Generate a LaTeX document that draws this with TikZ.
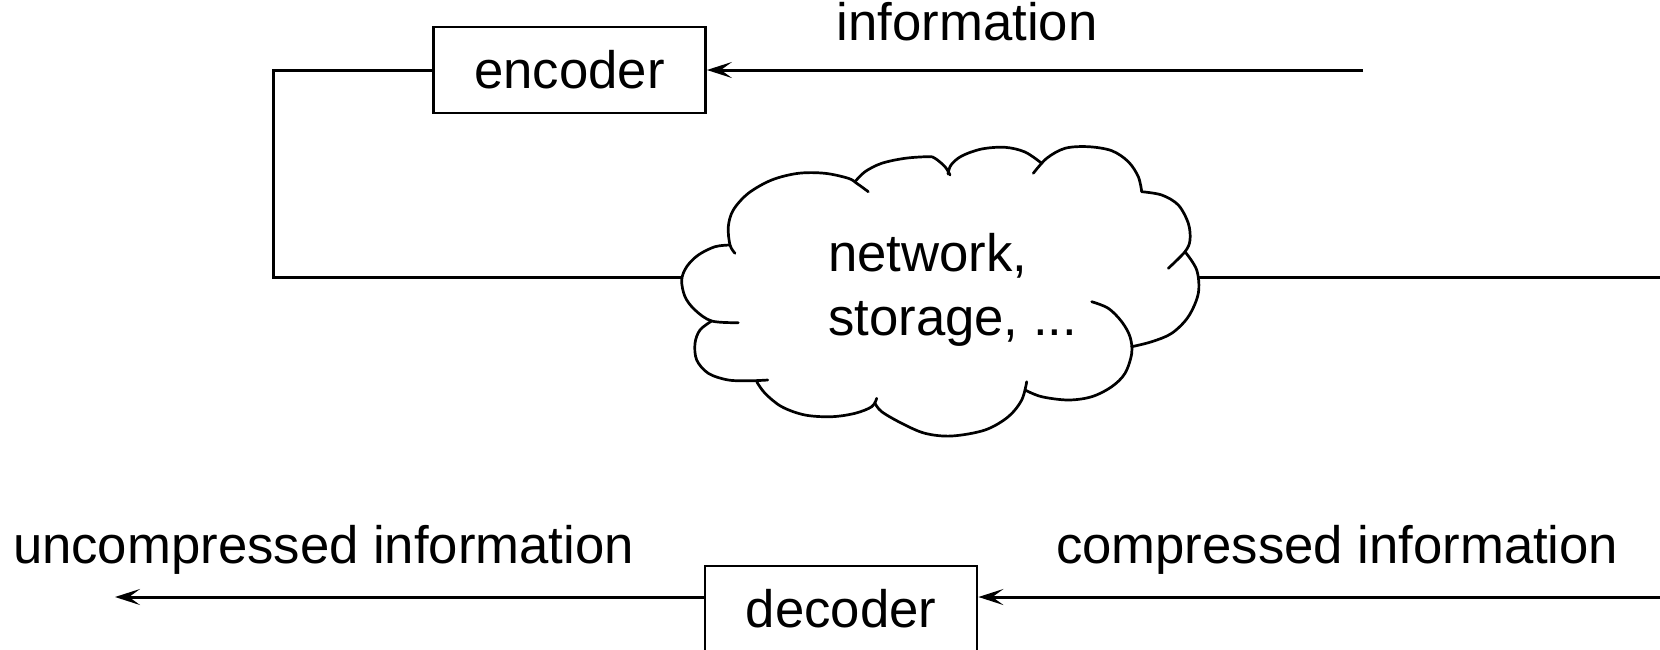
\documentclass[tikz,border=0pt]{standalone}
\usepackage{fontspec}
\setmainfont{Liberation Sans}
\usetikzlibrary{arrows.meta}
\begin{document}
\begin{tikzpicture}[x=1pt,y=-1pt, line width=3pt,
  every node/.style={font=\fontsize{52.7}{63.3}\selectfont, inner sep=0pt},
  box/.style={draw, line width=2.8pt, minimum width=272pt, minimum height=86pt},
  arr/.style={-{Stealth[length=25pt,width=16pt,inset=11pt]}},
  cloudline/.style={line width=2.7pt, line join=round, line cap=round},
  bump/.style={smooth, tension=0.55}]
\useasboundingbox (0,0) rectangle (1660,649);
\fill[white] (0,0) rectangle (1660,649);

% boxes and labels
\node[box] (enc) at (569.5,70) {encoder};
\node[box] (dec) at (841,609) {decoder};
\node[anchor=base] (info) at (967,40) {information};
\node[anchor=base west] (unc) at (11.5,563) {uncompressed information};
\node[anchor=base west] (cmp) at (1054.5,563) {compressed information};
\node[anchor=base west, align=left] (net) at (826.7,335) {network,\\storage, ...};

% coordinates
\coordinate (cl) at (682,277);
\coordinate (cr) at (1197.5,277);
\coordinate (lc) at (273,277);
\coordinate (redge) at (1660,277);
\coordinate (isrc) at (1363,70);
\coordinate (csrc) at (1660,597);
\coordinate (usink) at (115,597);

% cloud
\begin{scope}[cloudline]
% upper-left bump (with ticks)
\draw plot[bump] coordinates {(735,253.3) (730,245) (728.3,226.7) (733.3,210) (748.3,193.3) (771.7,180) (798.3,173.3) (825,173.3) (848.3,178.3) (856.7,183.3) (868.3,191.7)};
% left bump
\draw plot[bump] coordinates {(730,245) (715,246.7) (698.3,255) (686.7,266.7) (681.7,280) (685,296.7) (695,310) (711.7,321) (738.3,322.7)};
% lower-left bump
\draw plot[bump] coordinates {(711.7,321) (700,330) (695,343.3) (696.7,360) (708.3,373.3) (728.3,380) (751.7,380.7) (767.7,380)};
% bottom-left bump
\draw plot[bump] coordinates {(756.7,381.7) (765,393.3) (781.7,406.7) (805,415) (831.7,416.7) (855,413.3) (871.7,406.7) (876.7,398.3)};
% bottom bump
\draw plot[bump] coordinates {(875,403.3) (881.7,411.7) (901.7,423.3) (925,433.3) (951.7,436) (985,430) (1008.3,416.7) (1021.7,400) (1026.7,381.7)};
% bottom-right bump (with inner tick)
\draw plot[bump] coordinates {(1025,390) (1041.7,396.7) (1068.3,400) (1091.7,396.7) (1111.7,386.7) (1125,373.3) (1131.7,353.3) (1130,336.7) (1121.7,321.7) (1108.3,308.3) (1091.7,301.7)};
% right bump
\draw plot[bump] coordinates {(1131.7,346.7) (1151.7,341.7) (1171.7,333.3) (1188.3,316.7) (1198.3,293.3) (1196.7,270) (1185,251.7)};
% upper-right bump (with inner tick)
\draw plot[bump] coordinates {(1141.7,191.7) (1161.7,195) (1178.3,205) (1188.3,223.3) (1190,240) (1185,251.7) (1168.3,268.3)};
% top-right bump (with inner tick)
\draw plot[bump] coordinates {(1141.7,191.7) (1138.3,176.7) (1128.3,161.7) (1111.7,150.7) (1088.3,146.7) (1065,148.3) (1046.7,158.3) (1033.3,173.3)};
% top-middle bump
\draw plot[bump] coordinates {(948,174) (951,165) (961.7,156) (981.7,149) (1005,147.3) (1025,152) (1041.7,163.3)};
% top-left bump
\draw plot[bump] coordinates {(950,175) (945,166.7) (935,158.3) (928.3,156.7) (905,158.3) (881.7,163.3) (865,171.7) (855,181.7)};
\end{scope}

% connectors
\draw (enc.west) -| (lc) -- (cl);
\draw (cr) -- (redge);
\draw[arr] (isrc) -- (enc.east);
\draw[arr] (csrc) -- (csrc -| dec.east);
\draw[arr] (dec.west |- usink) -- (usink);
\end{tikzpicture}
\end{document}
